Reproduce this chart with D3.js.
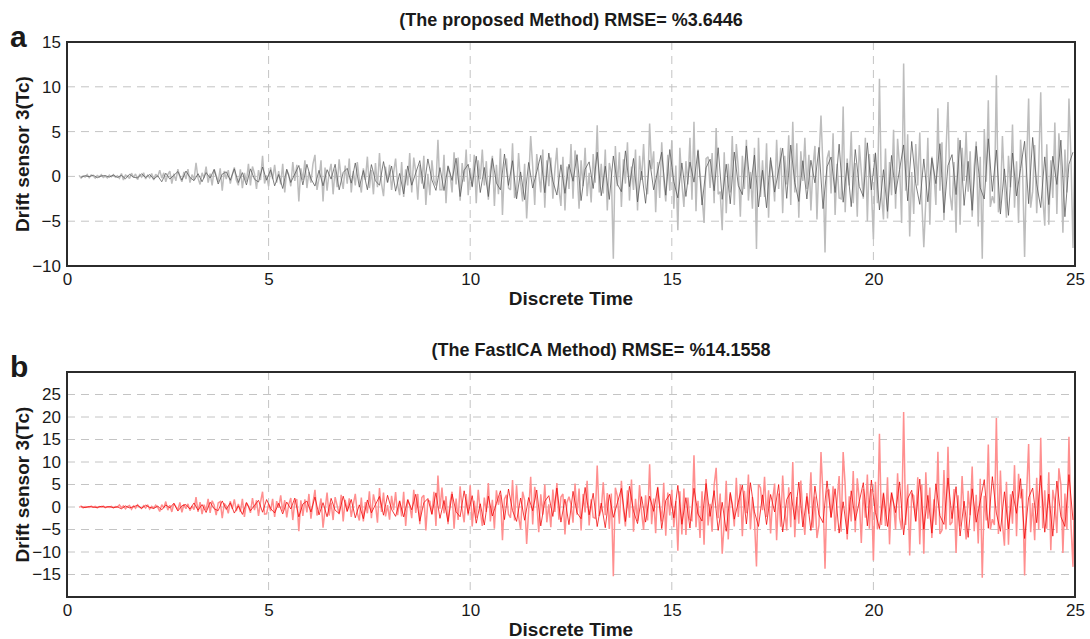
<!DOCTYPE html>
<html>
<head>
<meta charset="utf-8">
<script src="https://cdn.jsdelivr.net/npm/d3@7"></script>
<style>
  html, body { margin: 0; padding: 0; background: #ffffff; }
  svg { display: block; }
  text { font-family: "Liberation Sans", Arial, Helvetica, sans-serif; fill: #1a1a1a; }
</style>
</head>
<body>
<svg id="chart" width="1090" height="639"></svg>
<script>
// ---------------- DATA ----------------
const lightStart = 0.3, lightStep = 0.05;   // discrete time sampling, light traces
const darkStart = 0.35, darkStep = 0.1;     // discrete time sampling, dark traces
const xTicks = [0, 5, 10, 15, 20, 25];
const yTicksA = [-10, -5, 0, 5, 10, 15];
const yTicksB = [-15, -10, -5, 0, 5, 10, 15, 20, 25];
const titleA = "(The proposed Method) RMSE= %3.6446";
const titleB = "(The FastICA Method) RMSE= %14.1558";
const xLabel = "Discrete Time";
const yLabel = "Drift sensor 3(Tc)";

// panel a — light trace
const proposedLight = [
  0.12,-0.18,0.06,-0.08,0.2,-0.14,0.16,0.04,-0.2,0.1,-0.06,0.18,-0.12,0.02,-0.16,0.14,-0.04,0.19,-0.1,0.08,
  -0.2,0.32,-0.4,0.16,0.04,-0.24,0.36,-0.12,0.28,-0.36,0.2,-0.08,0.4,-0.28,0.12,-0.16,0.32,-0.4,0.24,-0.04,
  0.7,-0.2,0.4,-0.6,0.2,0.6,-0.8,0.3,-0.5,0.8,-0.1,-0.6,0.5,-0.3,0.8,-0.7,0.2,-0.4,1.5,-0.2,
  -0.9,0.4,-0.2,1.1,-0.7,0.3,-1.0,0.8,0.1,-0.6,0.9,-1.6,0.6,-0.3,0.7,-0.8,0.2,1.0,-0.4,-1.0,
  0.8,-1.3,0.4,-0.6,1.4,-1.0,1.1,0.3,-1.4,0.7,-0.4,2.3,-0.8,0.1,-1.1,1.0,-0.3,1.3,-0.7,0.6,
  -0.9,1.4,-1.8,0.7,0.2,-1.1,1.6,-0.5,1.3,-2.8,0.9,-0.4,1.8,-1.3,0.5,-0.7,1.4,2.4,-1.5,-0.2,
  1.8,-2.8,1.0,-1.6,0.4,1.4,-2.0,0.8,-1.2,1.9,-0.2,-1.4,1.2,-0.8,2.0,-1.8,0.6,-1.0,1.6,-0.4,
  -1.8,0.9,-0.4,2.2,-1.3,0.7,-2.0,1.5,-1.2,2.6,-0.8,-2.2,1.1,-0.7,1.3,-1.5,0.4,2.0,-0.9,-2.1,
  1.6,-2.3,0.8,-1.0,2.6,-1.8,2.1,0.5,-2.6,1.3,-0.8,2.3,-3.2,0.3,-2.1,1.8,-0.5,-1.0,4.1,-1.5,
  -1.5,2.4,-3.0,1.2,0.3,-1.8,2.7,-0.9,2.1,-2.7,1.5,-0.6,3.0,-2.1,0.9,-1.2,2.4,-3.0,1.8,-0.3,
  3.0,-1.0,1.7,-2.6,0.7,2.3,-3.3,1.3,-2.0,3.1,-4.3,1.2,2.0,-1.3,-1.5,3.7,-2.4,-1.7,2.6,-0.7,
  -2.8,1.4,-4.7,-0.5,4.5,1.1,-3.2,2.5,0.4,-1.8,3.0,-3.5,1.8,-1.1,2.1,-2.5,0.7,3.2,-1.4,-3.3,
  2.2,-3.8,1.1,-1.4,3.6,-2.5,2.9,0.7,-3.6,1.8,-1.1,3.2,-2.2,0.4,-2.9,2.5,-0.7,5.7,-1.8,1.4,
  -1.9,3.0,-3.8,1.5,0.4,-9.2,3.4,-1.1,2.7,-3.4,1.9,-0.8,3.8,-2.7,1.1,-1.5,3.0,-3.8,2.3,-0.4,
  3.6,-1.2,-2.0,5.9,0.8,2.8,-4.0,1.6,-2.4,3.8,-0.4,-2.8,2.4,-1.6,4.0,-3.6,1.2,-6.0,3.2,-0.8,
  -3.4,1.7,-0.9,4.3,-2.6,6.1,-3.9,3.0,0.4,-2.2,-5.2,2.0,2.2,-1.3,2.6,-3.0,5.4,-2.0,-1.7,-6.0,
  2.7,-4.1,1.4,-1.8,4.5,-3.2,3.6,0.9,-4.5,2.3,-1.4,4.1,-2.7,0.5,-3.6,3.2,-8.1,4.3,-2.3,1.8,
  -2.3,3.7,-4.6,1.8,0.5,-2.8,4.1,-1.4,3.2,-4.1,2.3,-0.9,4.6,-3.2,6.1,-1.8,3.7,-4.6,2.8,-0.5,
  4.3,-1.4,2.4,-3.8,1.0,3.4,-4.8,1.9,6.8,1.0,-8.5,2.0,2.9,-1.9,4.8,-4.3,1.4,-2.4,-2.5,7.8,
  -4.0,2.0,-1.0,5.0,-3.0,1.5,-4.5,3.5,0.5,-2.5,4.3,-5.0,2.5,-1.5,-7.0,2.5,-3.0,10.9,-2.0,-4.8,
  3.1,-4.7,1.6,-2.1,5.2,-3.6,4.2,1.0,-5.2,12.6,-1.6,4.7,-6.7,0.5,-4.2,3.6,-1.0,4.9,-2.6,-7.9,
  -2.7,4.3,-5.4,2.2,0.5,-3.2,7.6,-1.6,3.8,-4.9,2.7,8.3,-2.0,-3.8,1.6,-6.3,4.3,-5.4,3.2,-0.5,
  5.0,-1.7,2.8,-4.5,1.1,3.9,-5.6,2.2,-9.2,5.3,-0.6,8.5,-3.4,-2.2,-3.0,11.3,-4.0,-2.8,4.5,-1.1,
  -4.6,2.3,-1.2,5.8,-3.5,1.7,-5.2,4.1,0.6,-9.0,1.5,8.7,-3.5,-1.7,3.5,-4.1,1.2,9.4,-2.3,-5.5,
  3.6,-5.4,1.8,-2.4,6.0,-4.2,4.8,1.2,-6.3,3.0,-1.8,8.7,2.0,-8.0,4.0
];
// panel a — dark trace
const proposedDark = [
  -0.1,0.08,-0.03,0.14,-0.15,0.05,0.09,-0.08,0.15,-0.12,
  0.12,-0.27,0.24,-0.09,-0.18,0.3,-0.12,0.21,-0.3,0.06,
  -0.6,0.36,-0.3,0.12,0.54,-0.42,0.6,-0.12,-0.48,0.3,
  -0.6,0.43,-0.17,0.77,-0.85,0.26,0.51,-0.43,0.85,-0.68,
  0.42,-0.95,0.84,-0.32,-0.63,1.05,-0.42,0.74,-1.05,0.21,
  -1.35,0.81,-0.68,0.27,1.22,-0.95,1.35,-0.27,-1.08,0.68,
  -1.05,0.75,-0.3,1.35,-1.5,0.45,0.9,-0.75,1.5,-1.2,
  0.66,-1.49,1.32,-0.5,-0.99,1.65,-0.66,1.16,-1.65,0.33,
  -1.95,1.17,-0.98,0.39,1.76,-1.37,1.95,-0.39,-1.56,0.98,
  -1.58,1.13,-0.45,2.03,-2.25,0.68,1.35,-1.13,2.25,-1.8,
  1.0,-2.25,2.0,-0.75,-1.5,2.5,-1.0,1.75,-2.5,0.5,
  -2.6,1.56,-1.3,0.52,2.34,-1.82,2.6,-0.52,-2.08,1.3,
  -1.89,1.35,-0.54,2.43,-2.7,0.81,1.62,-1.35,2.7,-2.16,
  1.14,-2.57,2.28,-0.86,-1.71,2.85,-1.14,2.0,-2.85,0.57,
  -3.0,1.8,-1.5,0.6,2.7,-2.1,3.0,-0.6,-2.4,1.5,
  -2.24,1.6,-0.64,2.88,-3.2,0.96,1.92,-1.6,3.2,-2.56,
  1.36,-3.06,2.72,-1.02,-2.04,3.4,-1.36,2.38,-3.4,0.68,
  -3.5,2.1,-1.75,0.7,3.15,-2.45,3.5,-0.7,-2.8,1.75,
  -2.52,1.8,-0.72,3.24,-3.6,1.08,2.16,-1.8,3.6,-2.88,
  1.5,-3.38,3.0,-1.13,-2.25,3.75,-1.5,2.63,-3.75,0.75,
  -3.9,2.34,-1.95,0.78,3.51,-2.73,3.9,-0.78,-3.12,1.95,
  -2.84,2.03,-0.81,3.65,-4.05,1.22,2.43,-2.03,4.05,-3.24,
  1.68,-3.78,3.36,-1.26,-2.52,4.2,-1.68,2.94,-4.2,0.84,
  -4.35,2.61,-2.18,0.87,3.92,-3.05,4.35,-0.87,-3.48,2.18,
  -3.15,2.25,-0.9,4.05,-4.5,1.35,2.7
];
// panel b — light trace
const fasticaLight = [
  -0.1,0.16,-0.2,0.08,0.02,-0.12,0.18,-0.06,0.14,-0.18,0.1,-0.04,0.2,-0.14,0.06,-0.08,0.16,-0.2,0.12,-0.02,
  0.45,-0.15,0.25,-0.4,0.1,0.35,-0.5,0.2,-0.3,0.48,-0.05,-0.35,0.3,-0.2,0.5,-0.45,0.15,-0.25,0.4,-0.1,
  -1.0,0.5,-0.2,1.2,-0.7,0.4,-1.1,0.8,0.1,-0.6,1.0,-1.2,0.6,-0.4,0.7,-0.8,0.2,-0.6,2.2,-1.1,
  1.1,-1.6,0.5,-0.7,1.8,-1.3,1.4,0.4,-1.8,0.9,1.2,-2.5,0.8,0.2,-1.4,1.3,-0.4,1.7,-0.9,0.7,
  -1.1,1.8,-2.2,0.9,0.2,-1.3,2.0,-0.7,1.5,-2.0,1.1,3.4,-1.6,-1.5,0.7,-0.9,1.8,-2.2,1.3,-0.2,
  2.6,-0.9,1.5,-2.3,0.6,2.0,-2.9,1.2,1.7,-5.4,1.5,-2.0,1.7,-1.2,2.9,-2.6,0.9,3.8,-1.9,-0.6,
  1.9,-4.6,-0.6,3.2,-1.9,1.0,-2.9,2.2,0.3,-1.6,2.7,-3.2,1.6,-1.0,1.9,-2.2,0.6,2.9,-1.3,-3.0,
  2.1,-3.2,1.1,-1.4,3.5,-2.5,2.8,0.7,-3.5,4.2,-1.1,3.2,-2.1,0.4,-2.8,2.5,-0.7,3.3,-1.8,1.4,
  -2.1,3.4,-4.2,1.7,0.4,-2.5,3.8,-1.3,2.9,-3.8,2.1,2.6,-5.2,1.5,1.3,-1.7,3.4,-4.2,7.0,-0.4,
  4.3,-1.4,2.4,-3.8,1.0,3.4,-4.8,1.9,-2.9,4.6,-0.5,-3.4,2.9,-1.9,4.8,-4.3,1.4,-2.4,3.8,-1.0,
  -4.2,2.1,-1.1,5.3,-3.2,1.6,-4.8,3.7,0.5,2.7,-7.4,1.8,2.7,-1.6,-2.4,6.0,-3.0,4.8,-2.1,-5.0,
  3.4,1.5,-8.2,-0.8,6.7,-3.9,4.5,1.1,-5.6,2.8,-1.7,5.0,-3.4,0.6,-4.5,3.9,-1.1,5.3,-2.8,2.2,
  2.9,-6.1,1.0,2.3,0.6,-3.5,5.2,-1.7,4.1,-5.2,2.9,-1.2,5.8,-4.1,1.7,-2.3,-2.5,9.2,-2.0,-0.6,
  5.5,-1.8,3.1,-4.9,3.0,-15.4,4.3,2.4,-3.7,5.8,-0.6,-4.3,3.7,-2.4,6.1,-5.5,1.8,-3.1,4.9,-1.2,
  -5.1,2.6,-3.0,9.5,-3.8,1.9,-5.8,4.5,0.6,-3.2,5.4,-6.4,3.2,-1.9,3.8,-4.5,1.3,-9.7,3.5,-6.1,
  4.1,-6.2,2.1,-2.8,-3.0,11.5,-4.5,1.4,-6.9,3.5,-8.4,6.2,-4.1,0.7,-5.5,4.8,8.7,-2.5,3.0,-10.4,
  -3.6,5.8,-7.2,2.9,0.7,-4.3,6.5,-2.2,5.0,-6.5,3.6,-1.4,7.2,-5.0,2.2,-2.9,-13.2,5.0,4.3,-0.7,
  6.7,-2.2,3.7,-5.9,1.5,5.2,-7.4,3.0,-4.4,7.0,-0.7,-5.2,4.4,-4.5,10.0,-6.7,2.2,-3.7,5.9,-1.5,
  -6.2,3.1,-1.5,7.7,-4.6,2.3,-6.9,-4.0,12.2,2.5,-13.7,3.5,3.9,-2.3,4.6,-5.4,1.5,6.9,-5.5,12.2,
  4.8,-7.2,2.4,-3.2,8.0,-5.6,6.4,1.6,-8.0,4.0,-2.4,7.2,-4.8,4.0,-11.9,5.6,-5.0,16.3,-4.0,3.2,
  -4.2,6.6,-8.3,3.3,0.8,-5.0,7.5,-2.5,-5.0,21.1,-4.0,5.0,-10.8,3.0,2.5,-3.3,6.6,-8.3,5.0,-10.4,
  7.7,-2.6,4.3,-6.9,1.7,-4.0,12.3,-6.0,-5.2,8.2,-5.0,13.4,-4.0,-3.4,4.0,-10.2,2.6,-4.3,6.9,-1.7,
  -7.2,3.6,-1.8,9.0,-5.4,2.7,-8.1,6.3,-15.7,2.5,-3.0,13.9,-5.0,-2.7,-4.0,19.8,-6.0,8.1,-3.6,-8.6,
  5.6,-8.4,2.8,-3.7,9.3,-6.5,7.4,1.9,4.0,-15.2,3.0,14.0,-5.6,0.9,-7.4,6.5,-5.0,15.4,-4.7,3.7,
  -4.8,7.7,-9.6,3.8,1.0,-5.8,8.6,5.0,-10.2,3.0,-5.0,15.6,-4.0,-13.3,10.0
];
// panel b — dark trace
const fasticaDark = [
  0.06,-0.14,0.12,-0.05,-0.09,0.15,-0.06,0.11,-0.15,0.03,
  -0.4,0.24,-0.2,0.08,0.36,-0.28,0.4,-0.08,-0.32,0.2,
  -0.63,0.45,-0.18,0.81,-0.9,0.27,0.54,-0.45,0.9,-0.72,
  0.54,-1.22,1.08,-0.41,-0.81,1.35,-0.54,0.95,-1.35,0.27,
  -1.65,0.99,-0.83,0.33,1.49,-1.16,1.65,-0.33,-1.32,0.83,
  -1.54,1.1,-0.44,1.98,-2.2,0.66,1.32,-1.1,2.2,-1.76,
  0.96,-2.16,1.92,-0.72,-1.44,2.4,-0.96,1.68,-2.4,0.48,
  -2.6,1.56,-1.3,0.52,2.34,-1.82,2.6,-0.52,-2.08,1.3,
  -2.2,1.58,-0.63,2.84,-3.15,0.95,1.89,-1.58,3.15,-2.52,
  1.44,-3.24,2.88,-1.08,-2.16,3.6,-1.44,2.52,-3.6,0.72,
  -4.0,2.4,-2.0,0.8,3.6,-2.8,4.0,-0.8,-3.2,2.0,
  -2.94,2.1,-0.84,3.78,-4.2,1.26,2.52,-2.1,4.2,-3.36,
  1.74,-3.92,3.48,-1.31,-2.61,4.35,-1.74,3.05,-4.35,0.87,
  -4.6,2.76,-2.3,0.92,4.14,-3.22,4.6,-0.92,-3.68,2.3,
  -3.36,2.4,-0.96,4.32,-4.8,1.44,2.88,-2.4,4.8,-3.84,
  2.08,-4.68,4.16,-1.56,-3.12,5.2,-2.08,3.64,-5.2,1.04,
  -5.4,3.24,-2.7,1.08,4.86,-3.78,5.4,-1.08,-4.32,2.7,
  -3.89,2.78,-1.11,5.0,-5.55,1.67,3.33,-2.78,5.55,-4.44,
  2.32,-5.22,4.64,-1.74,-3.48,5.8,-2.32,4.06,-5.8,1.16,
  -6.0,3.6,-3.0,1.2,5.4,-4.2,6.0,-1.2,-4.8,3.0,
  -4.34,3.1,-1.24,5.58,-6.2,1.86,3.72,-3.1,6.2,-4.96,
  2.58,-5.81,5.16,-1.94,-3.87,6.45,-2.58,4.52,-6.45,1.29,
  -6.75,4.05,-3.38,1.35,6.08,-4.73,6.75,-1.35,-5.4,3.38,
  -4.9,3.5,-1.4,6.3,-7.0,2.1,4.2,-3.5,7.0,-5.6,
  2.88,-6.48,5.76,-2.16,-4.32,7.2,-2.88
];

// ---------------- LAYOUT ----------------
const svg = d3.select("#chart");
const plotLeft = 67, plotRight = 1075;
const x = d3.scaleLinear().domain([0, 25]).range([plotLeft, plotRight]);
const lightTimes = d3.range(proposedLight.length).map(i => lightStart + i * lightStep);
const darkTimes = d3.range(proposedDark.length).map(i => darkStart + i * darkStep);

const panels = [
  { top: 42, bottom: 266, domain: [-10, 15], ticks: yTicksA, title: titleA, titleX: 571, letter: "a",
    light: proposedLight, dark: proposedDark, lightColor: "#bdbdbd", darkColor: "#555555" },
  { top: 372, bottom: 597, domain: [-20, 30], ticks: yTicksB, title: titleB, titleX: 601, letter: "b",
    light: fasticaLight, dark: fasticaDark, lightColor: "#ff8f8f", darkColor: "#f00000" }
];

panels.forEach(p => {
  const y = d3.scaleLinear().domain(p.domain).range([p.bottom, p.top]);
  const g = svg.append("g");

  // grid
  g.append("g").selectAll("line").data(xTicks.slice(1, -1)).join("line")
    .attr("x1", d => x(d)).attr("x2", d => x(d))
    .attr("y1", p.top).attr("y2", p.bottom)
    .attr("stroke", "#c4c4c4").attr("stroke-width", 1).attr("stroke-dasharray", "8,6");
  g.append("g").selectAll("line").data(p.ticks.filter(t => y(t) > p.top + 2 && y(t) < p.bottom - 2)).join("line")
    .attr("x1", plotLeft).attr("x2", plotRight)
    .attr("y1", d => y(d)).attr("y2", d => y(d))
    .attr("stroke", "#c4c4c4").attr("stroke-width", 1).attr("stroke-dasharray", "8,6");

  // traces
  const lightLine = d3.line().x((d, i) => x(lightTimes[i])).y(d => y(d));
  const darkLine = d3.line().x((d, i) => x(darkTimes[i])).y(d => y(d));
  g.append("path").datum(p.light).attr("d", lightLine)
    .attr("fill", "none").attr("stroke", p.lightColor).attr("stroke-width", 1.5)
    .attr("stroke-linejoin", "miter").attr("stroke-miterlimit", 2);
  g.append("path").datum(p.dark).attr("d", darkLine)
    .attr("fill", "none").attr("stroke", p.darkColor).attr("stroke-width", 0.75);

  // axes (labels only; frame drawn separately)
  const xAxis = d3.axisBottom(x).tickValues(xTicks).tickSize(0).tickPadding(7);
  const gx = g.append("g").attr("transform", `translate(0,${p.bottom})`).call(xAxis);
  gx.select(".domain").remove();
  gx.selectAll("text").style("font-size", "17px").attr("fill", "#1a1a1a")
    .style("font-family", "'Liberation Sans', Arial, sans-serif");

  const yAxis = d3.axisLeft(y).tickValues(p.ticks).tickSize(0).tickPadding(6);
  const gy = g.append("g").attr("transform", `translate(${plotLeft},0)`).call(yAxis);
  gy.select(".domain").remove();
  gy.selectAll("text").style("font-size", "17px").attr("fill", "#1a1a1a")
    .style("font-family", "'Liberation Sans', Arial, sans-serif");

  // frame
  g.append("rect").attr("x", plotLeft).attr("y", p.top)
    .attr("width", plotRight - plotLeft).attr("height", p.bottom - p.top)
    .attr("fill", "none").attr("stroke", "#2b2b2b").attr("stroke-width", 2);

  // title
  g.append("text").attr("x", p.titleX).attr("y", p.top - 16)
    .attr("text-anchor", "middle").style("font-size", "18px").style("font-weight", "bold")
    .text(p.title);

  // x label
  g.append("text").attr("x", (plotLeft + plotRight) / 2).attr("y", p.bottom + 39)
    .attr("text-anchor", "middle").style("font-size", "19px").style("font-weight", "bold")
    .text(xLabel);

  // y label
  g.append("text")
    .attr("transform", `translate(29,${(p.top + p.bottom) / 2}) rotate(-90)`)
    .attr("text-anchor", "middle").style("font-size", "19px").style("font-weight", "bold")
    .text(yLabel);

  // panel letter
  g.append("text").attr("x", 10).attr("y", p.top + 5)
    .style("font-size", "30px").style("font-weight", "bold")
    .text(p.letter);
});
</script>
</body>
</html>
